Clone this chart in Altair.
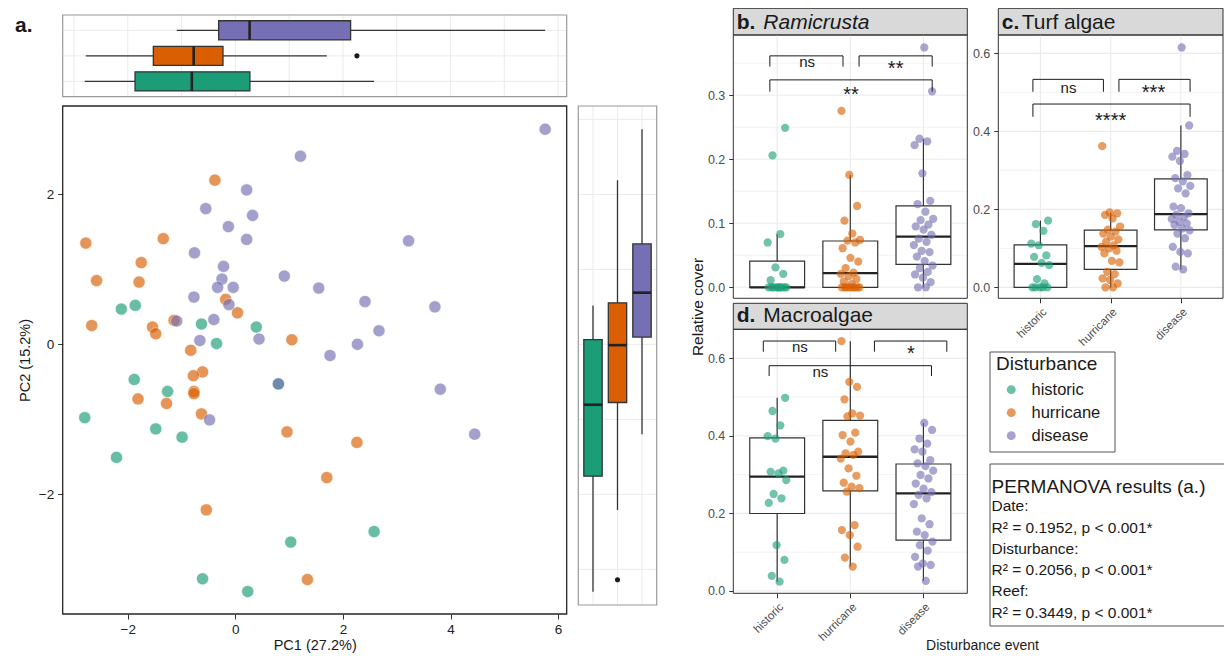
import altair as alt
import pandas as pd

# ---------------- data ----------------
GROUPS = ["historic", "hurricane", "disease"]
COLORS = ["#1B9E77", "#D95F02", "#7570B3"]

# panel a: PCA scores
pc1_historic = [-2.12, -1.86, -0.63, 0.39, -0.35, -1.88, -1.26, 0.80, -2.80, -1.48, -0.99, -2.21, 1.03, 2.58, -0.61, 0.23]
pc2_historic = [0.47, 0.52, 0.27, 0.23, 0.01, -0.47, -0.63, -0.53, -0.98, -1.13, -1.24, -1.51, -2.64, -2.50, -3.13, -3.30]
pc1_hurricane = [-0.38, -2.78, -1.34, -1.75, -2.58, -1.79, -0.18, 0.04, -2.67, -1.54, -1.48, -1.14, 1.05,
                 -0.83, -0.61, -0.78, -0.77, -0.77, -1.81, -1.28, -0.63, 0.96, 2.26, 1.70, -0.54, 1.34]
pc2_hurricane = [2.19, 1.35, 1.41, 1.09, 0.85, 0.83, 0.60, 0.42, 0.25, 0.23, 0.14, 0.32, 0.06,
                 -0.08, -0.37, -0.42, -0.63, -0.66, -0.73, -0.79, -0.93, -1.17, -1.31, -1.78, -2.21, -3.14]
pc1_disease = [5.76, 1.21, 0.21, -0.55, 0.32, -0.13, 0.21, -0.76, 3.22, -0.22, -0.25, 0.91, -0.33, -0.04, 1.55,
               -0.77, -0.12, 2.41, 3.71, 2.67, 2.27, 1.76, -1.09, -0.40, -0.66, 0.44, 0.80, -0.48, 3.81, 4.45]
pc2_disease = [2.87, 2.51, 2.06, 1.81, 1.72, 1.57, 1.40, 1.22, 1.38, 1.04, 0.87, 0.91, 0.76, 0.76, 0.75,
               0.63, 0.53, 0.57, 0.50, 0.18, 0.00, -0.15, 0.31, 0.33, 0.05, 0.07, -0.53, -1.01, -0.60, -1.20]

# panel b: Ramicrusta relative cover
ram_historic = [0, 0, 0, 0, 0, 0, 0, 0, 0, 0.011, 0.021, 0.031, 0.070, 0.083, 0.206, 0.249]
ram_hurricane = [0, 0, 0, 0, 0, 0, 0, 0, 0.005, 0.009, 0.013, 0.017, 0.021, 0.023, 0.030, 0.040, 0.046,
                 0.061, 0.070, 0.073, 0.074, 0.084, 0.104, 0.127, 0.1755, 0.2755]
ram_disease = [0, 0, 0.008, 0.015, 0.020, 0.024, 0.030, 0.034, 0.041, 0.048, 0.055, 0.057, 0.066, 0.071, 0.076,
               0.082, 0.090, 0.095, 0.098, 0.105, 0.107, 0.118, 0.130, 0.135, 0.178, 0.222, 0.228, 0.232, 0.306, 0.3745]

# panel c: turf algae relative cover
turf_historic = [0, 0, 0, 0, 0, 0.010, 0.021, 0.057, 0.063, 0.078, 0.082, 0.108, 0.112, 0.145, 0.162, 0.171]
turf_hurricane = [0, 0, 0.010, 0.019, 0.023, 0.034, 0.040, 0.064, 0.068, 0.087, 0.094, 0.100, 0.104, 0.108,
                  0.117, 0.123, 0.130, 0.138, 0.143, 0.148, 0.156, 0.177, 0.186, 0.190, 0.192, 0.362]
turf_disease = [0.046, 0.053, 0.087, 0.091, 0.104, 0.126, 0.138, 0.146, 0.151, 0.160, 0.164, 0.168, 0.175, 0.181,
                0.186, 0.190, 0.203, 0.207, 0.241, 0.254, 0.260, 0.272, 0.280, 0.288, 0.324, 0.335, 0.342, 0.350,
                0.415, 0.615]

# panel d: macroalgae relative cover
macro_historic = [0.024, 0.039, 0.080, 0.118, 0.227, 0.239, 0.250, 0.286, 0.303, 0.307, 0.310, 0.393, 0.399,
                  0.427, 0.464, 0.498]
macro_hurricane = [0.063, 0.086, 0.114, 0.144, 0.157, 0.170, 0.256, 0.265, 0.269, 0.279, 0.297, 0.316, 0.341,
                   0.351, 0.355, 0.359, 0.385, 0.402, 0.408, 0.450, 0.452, 0.458, 0.494, 0.526, 0.539, 0.644]
macro_disease = [0.026, 0.063, 0.067, 0.071, 0.088, 0.104, 0.118, 0.127, 0.144, 0.153, 0.172, 0.187, 0.224, 0.239,
                 0.248, 0.255, 0.264, 0.277, 0.290, 0.299, 0.310, 0.322, 0.329, 0.337, 0.359, 0.365, 0.380, 0.393,
                 0.415, 0.433]

# significance brackets: (left, right, top, leg end, label, label x, label baseline, label size)
SIG_RAM = [(0.90, 1.90, 0.3614, 0.3447, "ns", 1.41, 0.344, 15),
           (2.12, 3.12, 0.3614, 0.3447, "**", 2.62, 0.331, 20),
           (0.90, 3.12, 0.3239, 0.3056, "**", 2.01, 0.2903, 20)]
SIG_TURF = [(0.893, 1.897, 0.5333, 0.5015, "ns", 1.40, 0.498, 15),
            (2.118, 3.131, 0.5333, 0.5015, "***", 2.61, 0.4818, 20),
            (0.893, 3.131, 0.4700, 0.4374, "****", 2.00, 0.4123, 20)]
SIG_MACRO = [(0.81, 1.80, 0.6443, 0.6168, "ns", 1.31, 0.6165, 15),
             (2.33, 3.32, 0.6443, 0.6168, "*", 2.83, 0.5959, 20),
             (0.89, 3.11, 0.5807, 0.5541, "ns", 1.59, 0.551, 15)]

PERMANOVA_TITLE = "PERMANOVA results (a.)"
PERMANOVA_LINES = ["Date:", "R² = 0.1952, p < 0.001*", "Disturbance:", "R² = 0.2056, p < 0.001*",
                   "Reef:", "R² = 0.3449, p < 0.001*"]

# ---------------- helpers ----------------
W, H = 1216, 647
FONT = "Liberation Sans"


def X(p):
    return p - 8


def Y(p):
    return p - 8


ONE = pd.DataFrame({"k": [0]})
IDX = {g: i + 1 for i, g in enumerate(GROUPS)}
CH = {"x": alt.X, "y": alt.Y, "x2": alt.X2, "y2": alt.Y2}
LABEL_EXPR = "[" + ",".join("'%s'" % g for g in GROUPS) + "][datum.value - 1]"


def lin(dom, rng):
    return alt.Scale(domain=list(dom), range=list(rng), nice=False, zero=False)


def long_df(h, u, d):
    rows = []
    for g, vals in zip(GROUPS, (h, u, d)):
        for v in vals:
            rows.append({"g": g, "v": v, "idx": IDX[g]})
    return pd.DataFrame(rows)


def rect(x0, y0, x1, y1, **kw):
    return alt.Chart(ONE).mark_rect(**kw).encode(
        x=alt.value(X(x0)), x2=alt.value(X(x1)), y=alt.value(Y(y0)), y2=alt.value(Y(y1)))


def label(text, x, y, size, **kw):
    opts = dict(align="left", baseline="alphabetic", color="#1a1a1a")
    opts.update(kw)
    return alt.Chart(ONE).mark_text(text=text, fontSize=size, **opts).encode(
        x=alt.value(X(x)), y=alt.value(Y(y)))


def hgrid(vals, ysc, x0, x1, color="#EBEBEB", width=1.0):
    return alt.Chart(pd.DataFrame({"v": vals})).mark_rule(color=color, strokeWidth=width).encode(
        y=alt.Y("v:Q", scale=ysc, axis=None), x=alt.value(X(x0)), x2=alt.value(X(x1)))


def vgrid(vals, xsc, y0, y1, color="#EBEBEB", width=1.0):
    return alt.Chart(pd.DataFrame({"v": vals})).mark_rule(color=color, strokeWidth=width).encode(
        x=alt.X("v:Q", scale=xsc, axis=None), y=alt.value(Y(y0)), y2=alt.value(Y(y1)))


def box_layers(df, vsc, isc, vertical, colored, lw=1.2, med_w=2.3, outliers=False):
    vk, ik = ("y", "x") if vertical else ("x", "y")
    base = alt.Chart(df).transform_joinaggregate(
        q1="q1(v)", q3="q3(v)", med="median(v)", groupby=["g"]
    ).transform_calculate(
        lo="datum.q1 - 1.5 * (datum.q3 - datum.q1)",
        hi="datum.q3 + 1.5 * (datum.q3 - datum.q1)",
    )
    stats = base.transform_filter("datum.v >= datum.lo && datum.v <= datum.hi").transform_aggregate(
        q1="min(q1)", q3="min(q3)", med="min(med)", wlo="min(v)", whi="max(v)", idx="min(idx)",
        groupby=["g"]
    ).transform_calculate(a="datum.idx - 0.375", b="datum.idx + 0.375")
    whisker = stats.mark_rule(color="#333333", strokeWidth=lw).encode(**{
        ik: CH[ik]("idx:Q", scale=isc, axis=None),
        vk: CH[vk]("wlo:Q", scale=vsc, axis=None),
        vk + "2": CH[vk + "2"]("whi:Q")})
    benc = {ik: CH[ik]("a:Q", scale=isc, axis=None), ik + "2": CH[ik + "2"]("b:Q"),
            vk: CH[vk]("q1:Q", scale=vsc, axis=None), vk + "2": CH[vk + "2"]("q3:Q")}
    if colored:
        benc["fill"] = alt.Fill("g:N", scale=alt.Scale(domain=GROUPS, range=COLORS), legend=None)
        box = stats.mark_rect(stroke="#333333", strokeWidth=lw).encode(**benc)
    else:
        box = stats.mark_rect(fill="white", stroke="#333333", strokeWidth=lw).encode(**benc)
    med = stats.mark_rule(color="#222222", strokeWidth=med_w).encode(**{
        ik: CH[ik]("a:Q", scale=isc, axis=None), ik + "2": CH[ik + "2"]("b:Q"),
        vk: CH[vk]("med:Q", scale=vsc, axis=None)})
    out = [whisker, box, med]
    if outliers:
        out.append(base.transform_filter("datum.v < datum.lo || datum.v > datum.hi")
                   .mark_circle(size=26, color="#1a1a1a", opacity=1).encode(**{
                       ik: CH[ik]("idx:Q", scale=isc, axis=None),
                       vk: CH[vk]("v:Q", scale=vsc, axis=None)}))
    return out


def panel(vals, xsc, ysc, px0, px1, py0, py1, sy0, letter, lx, name, nx, ty, italic, ymaj, ymin, sig, x_axis):
    layers = [rect(px0, sy0, px1, py0, fill="#D9D9D9", stroke="#333333", strokeWidth=1),
              label(letter, lx, ty, 21, fontWeight="bold"),
              label(name, nx, ty, 21, fontStyle="italic" if italic else "normal"),
              hgrid(ymin, ysc, px0, px1, width=0.6),
              hgrid(ymaj, ysc, px0, px1, width=1.1),
              vgrid([1, 2, 3], xsc, py0, py1, width=1.1)]
    df = long_df(*vals)
    layers += box_layers(df, ysc, xsc, vertical=True, colored=False)
    yaxis = alt.Axis(orient="left", offset=-X(px0), values=ymaj, format=".1f", title=None, grid=False,
                     domain=False, tickSize=4.5, tickColor="#333333", labelFontSize=12.5,
                     labelColor="#4D4D4D", labelPadding=4, labelFlush=False, labelOverlap=False)
    if x_axis:
        xaxis = alt.Axis(orient="bottom", offset=Y(py1) - H, values=[1, 2, 3], labelExpr=LABEL_EXPR,
                         title=None, grid=False, domain=False, tickSize=4.5, tickColor="#333333",
                         labelFontSize=11.5, labelColor="#4D4D4D", labelAngle=-45, labelAlign="right",
                         labelBaseline="top", labelPadding=3, labelFlush=False, labelOverlap=False)
    else:
        xaxis = None
    pts = alt.Chart(df).transform_window(rn="row_number()", groupby=["g"]).transform_calculate(
        jx="datum.idx + ((datum.rn * 0.6180339887) % 1 - 0.5) * 0.28"
    ).mark_circle(size=68, opacity=0.62).encode(
        x=alt.X("jx:Q", scale=xsc, axis=xaxis),
        y=alt.Y("v:Q", scale=ysc, axis=yaxis),
        color=alt.Color("g:N", scale=alt.Scale(domain=GROUPS, range=COLORS), legend=None))
    layers.append(pts)
    seg, txt = [], []
    for (l, r, t, b, lab, tx, tyv, fs) in sig:
        seg += [dict(x=l, x2=r, y=t, y2=t), dict(x=l, x2=l, y=t, y2=b), dict(x=r, x2=r, y=t, y2=b)]
        txt.append(dict(t=lab, x=tx, y=tyv, fs=fs))
    layers.append(alt.Chart(pd.DataFrame(seg)).mark_rule(color="#1a1a1a", strokeWidth=1).encode(
        x=alt.X("x:Q", scale=xsc, axis=None), x2="x2:Q",
        y=alt.Y("y:Q", scale=ysc, axis=None), y2="y2:Q"))
    layers.append(alt.Chart(pd.DataFrame(txt)).mark_text(align="center", baseline="alphabetic",
                                                         color="#1a1a1a").encode(
        x=alt.X("x:Q", scale=xsc, axis=None), y=alt.Y("y:Q", scale=ysc, axis=None), text="t:N",
        size=alt.Size("fs:Q", scale=None, legend=None)))
    layers.append(rect(px0, py0, px1, py1, fill="white", fillOpacity=0, stroke="#333333", strokeWidth=1))
    return layers


# ---------------- panel a ----------------
SX = lin([-3.21, 6.16], [X(62.7), X(566.7)])
SY = lin([-3.60, 3.18], [Y(614), Y(106)])
TMY = lin([0.4, 3.6], [Y(96.7), Y(15)])
RMX = lin([0.4, 3.6], [X(578.3), X(656.7)])
RMY = lin([-3.476, 3.18], [Y(605), Y(106)])

scat_rows = []
for g, a, b in zip(GROUPS, (pc1_historic, pc1_hurricane, pc1_disease), (pc2_historic, pc2_hurricane, pc2_disease)):
    for p1, p2 in zip(a, b):
        scat_rows.append({"g": g, "pc1": p1, "pc2": p2})
scat_df = pd.DataFrame(scat_rows)

layers = [rect(990, 352, 1115, 452, fill="white", stroke="#555555", strokeWidth=1),
          label("a.", 15, 31.5, 21, fontWeight="bold")]

# top marginal
layers += [vgrid(list(range(-3, 7)), SX, 15, 96.7), hgrid([1, 2, 3], TMY, 62.7, 566.7)]
layers += box_layers(long_df(pc1_historic, pc1_hurricane, pc1_disease), SX, TMY, vertical=False,
                     colored=True, lw=1.3, med_w=2.6, outliers=True)
layers.append(rect(62.7, 15, 566.7, 96.7, fill="white", fillOpacity=0, stroke="#9a9a9a", strokeWidth=1.2))

# right marginal
layers += [hgrid(list(range(-3, 4)), RMY, 578.3, 656.7), vgrid([1, 2, 3], RMX, 106, 605)]
layers += box_layers(long_df(pc2_historic, pc2_hurricane, pc2_disease), RMY, RMX, vertical=True,
                     colored=True, lw=1.3, med_w=2.6, outliers=True)
layers.append(rect(578.3, 106, 656.7, 605, fill="white", fillOpacity=0, stroke="#9a9a9a", strokeWidth=1.2))

# scatter
layers.append(alt.Chart(scat_df).mark_circle(size=150, opacity=0.66, stroke="white", strokeWidth=0.6).encode(
    x=alt.X("pc1:Q", scale=SX, axis=alt.Axis(
        orient="bottom", offset=Y(614) - H, values=[-2, 0, 2, 4, 6], title="PC1 (27.2%)", titleY=24,
        titleBaseline="top", titleFontSize=14.5, titleFontWeight="normal", titleColor="#1a1a1a",
        grid=False, domain=False, tickSize=5, tickColor="#333333", labelFontSize=13.5, labelColor="#222222",
        labelPadding=3, labelFlush=False)),
    y=alt.Y("pc2:Q", scale=SY, axis=alt.Axis(
        orient="left", offset=-X(62.7), values=[-2, 0, 2], title="PC2 (15.2%)", titleX=-30,
        titleBaseline="bottom", titleFontSize=14.5, titleFontWeight="normal", titleColor="#1a1a1a",
        grid=False, domain=False, tickSize=5, tickColor="#333333", labelFontSize=13.5, labelColor="#222222",
        labelPadding=4, labelFlush=False)),
    color=alt.Color("g:N", scale=alt.Scale(domain=GROUPS, range=COLORS), legend=alt.Legend(
        orient="none", legendX=X(996), legendY=Y(355.4), title="Disturbance", titleFontSize=19,
        titleFontWeight="normal", titleColor="#1a1a1a", titlePadding=7, labelFontSize=16.5,
        labelColor="#1a1a1a", symbolType="circle", symbolSize=80, symbolOpacity=0.65,
        symbolStrokeWidth=0, symbolOffset=7, labelOffset=12, rowPadding=6, padding=0)),
))
layers.append(rect(62.7, 106, 566.7, 614, fill="white", fillOpacity=0, stroke="#262626", strokeWidth=1.3))

# ---------------- panels b, c, d ----------------
BX = lin([0.4, 3.6], [X(733.3), X(967.3)])
BY = lin([-0.0172, 0.394], [Y(298.3), Y(35)])
CX = lin([0.4, 3.6], [X(998.3), X(1223)])
CY = lin([-0.028, 0.647], [Y(298.3), Y(35)])
DY = lin([-0.006, 0.6745], [Y(593.3), Y(329.3)])

layers += panel((ram_historic, ram_hurricane, ram_disease), BX, BY, 733.3, 967.3, 35, 298.3, 8.3,
                "b.", 736.7, "Ramicrusta", 763.3, 29.3, True,
                [0.0, 0.1, 0.2, 0.3], [0.05, 0.15, 0.25, 0.35], SIG_RAM, False)
layers += panel((turf_historic, turf_hurricane, turf_disease), CX, CY, 998.3, 1223, 35, 298.3, 8.3,
                "c.", 1001.7, "Turf algae", 1021.7, 29.3, False,
                [0.0, 0.2, 0.4, 0.6], [0.1, 0.3, 0.5], SIG_TURF, True)
layers += panel((macro_historic, macro_hurricane, macro_disease), BX, DY, 733.3, 967.3, 329.3, 593.3, 303.3,
                "d.", 736.7, "Macroalgae", 763.3, 322.3, False,
                [0.0, 0.2, 0.4, 0.6], [0.1, 0.3, 0.5], SIG_MACRO, True)

layers.append(label("Relative cover", 703, 307, 15.5, angle=270, align="center"))
layers.append(label("Disturbance event", 982.5, 650, 14, align="center"))

# PERMANOVA box
layers.append(rect(990, 464, 1240, 626, fill="white", fillOpacity=0, stroke="#555555", strokeWidth=1))
layers.append(label(PERMANOVA_TITLE, 991.5, 492.5, 19))
layers.append(label(PERMANOVA_LINES, 991.5, 511.3, 15.5, lineHeight=21.3))

chart = alt.layer(*layers).resolve_scale(
    x="independent", y="independent", color="independent", fill="independent"
).properties(
    width=W, height=H, autosize=alt.AutoSizeParams(type="none"), padding=0, background="white"
).configure(font=FONT).configure_view(stroke="transparent")

chart.save("out.html", embed_options={"renderer": "svg", "actions": False})
